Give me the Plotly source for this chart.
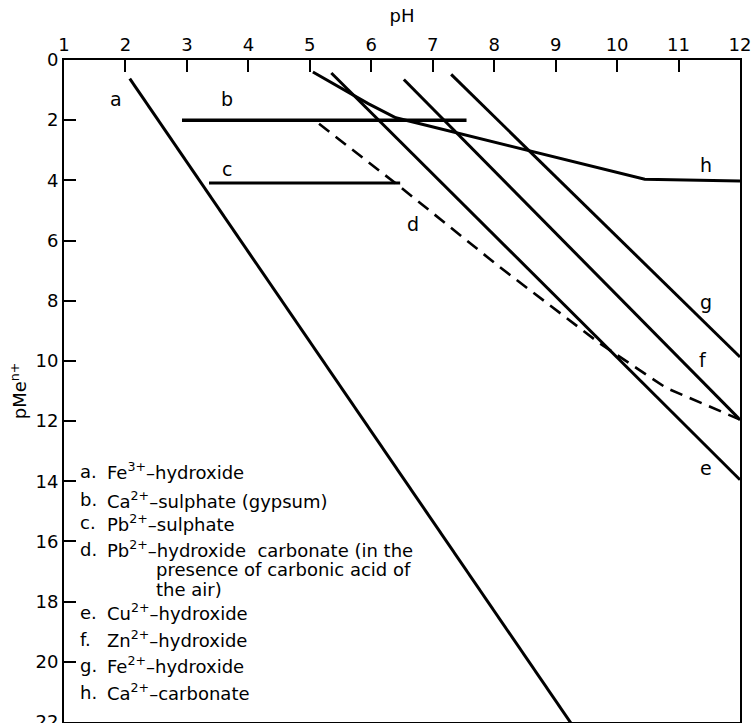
import plotly.graph_objects as go

# ---- data ----
ph_a = [2.07, 9.27]
pme_a = [0.62, 22.1]

ph_b = [2.92, 7.55]
pme_b = [2.0, 2.0]

ph_c = [3.36, 6.47]
pme_c = [4.09, 4.09]

ph_d = [5.15, 6.46, 8.09, 9.72, 10.8, 12.0]
pme_d = [2.12, 4.2, 6.88, 9.42, 10.9, 11.95]

ph_e = [5.35, 12.0]
pme_e = [0.43, 13.95]

ph_f = [6.53, 12.0]
pme_f = [0.65, 11.95]

ph_g = [7.30, 12.0]
pme_g = [0.48, 9.87]

ph_h = [5.05, 5.5, 5.95, 6.4, 6.8, 7.5, 8.5, 10.45, 12.0]
pme_h = [0.40, 0.92, 1.45, 1.92, 2.12, 2.47, 2.97, 3.96, 4.02]

curve_letters = ["a", "b", "c", "d", "e", "f", "g", "h"]
letter_ph = [1.85, 3.66, 3.66, 6.68, 11.44, 11.39, 11.44, 11.44]
letter_pme = [1.28, 1.31, 3.63, 5.45, 13.56, 9.97, 8.03, 3.49]

x_ticks = list(range(1, 13))
y_ticks = list(range(0, 23, 2))

legend_keys = ["a.", "b.", "c.", "d.", "", "", "e.", "f.", "g.", "h."]
legend_texts = [
    "Fe<sup>3+</sup>–hydroxide",
    "Ca<sup>2+</sup>–sulphate (gypsum)",
    "Pb<sup>2+</sup>–sulphate",
    "Pb<sup>2+</sup>–hydroxide  carbonate (in the",
    "presence of carbonic acid of",
    "the air)",
    "Cu<sup>2+</sup>–hydroxide",
    "Zn<sup>2+</sup>–hydroxide",
    "Fe<sup>2+</sup>–hydroxide",
    "Ca<sup>2+</sup>–carbonate",
]
legend_pme = [13.66, 14.61, 15.38, 16.26, 16.93, 17.59, 18.36, 19.25, 20.12, 21.01]

FONT = "DejaVu Sans"
FS = 18

fig = go.Figure()
for xs, ys, w in [(ph_a, pme_a, 3), (ph_b, pme_b, 3.6), (ph_c, pme_c, 3),
                  (ph_e, pme_e, 3), (ph_f, pme_f, 3), (ph_g, pme_g, 3), (ph_h, pme_h, 3)]:
    fig.add_trace(go.Scatter(x=xs, y=ys, mode="lines",
                             line=dict(color="black", width=w),
                             showlegend=False, hoverinfo="skip"))
fig.add_trace(go.Scatter(x=ph_d, y=pme_d, mode="lines",
                         line=dict(color="black", width=2.6, dash="13px,8px"),
                         showlegend=False, hoverinfo="skip"))

for t, x, y in zip(curve_letters, letter_ph, letter_pme):
    fig.add_annotation(x=x, y=y, text=t, showarrow=False,
                       font=dict(family=FONT, size=19, color="black"))

for k, t, y in zip(legend_keys, legend_texts, legend_pme):
    if k:
        fig.add_annotation(xref="paper", x=0.021, y=y, text=k, showarrow=False,
                           xanchor="left", yanchor="middle",
                           font=dict(family=FONT, size=FS, color="black"))
        fig.add_annotation(xref="paper", x=0.060, y=y, text=t, showarrow=False,
                           xanchor="left", yanchor="middle",
                           font=dict(family=FONT, size=FS, color="black"))
    else:
        fig.add_annotation(xref="paper", x=0.133, y=y, text=t, showarrow=False,
                           xanchor="left", yanchor="middle",
                           font=dict(family=FONT, size=FS, color="black"))

fig.update_layout(
    width=752, height=723,
    margin=dict(l=64, r=12, t=60, b=1),
    paper_bgcolor="white", plot_bgcolor="white",
    font=dict(family=FONT, size=FS, color="black"),
    xaxis=dict(range=[1, 12], side="top", tickvals=x_ticks, automargin=False,
               ticks="inside", ticklen=12, tickwidth=1.5, tickcolor="black",
               showline=True, linecolor="black", linewidth=2, mirror=True,
               showgrid=False, zeroline=False, ticklabeloverflow="allow",
               title=dict(text="pH", standoff=6, font=dict(family=FONT, size=FS)),
               tickfont=dict(family=FONT, size=FS)),
    yaxis=dict(range=[22, 0], tickvals=y_ticks, automargin=False,
               ticks="inside", ticklen=12, tickwidth=1.5, tickcolor="black",
               showline=True, linecolor="black", linewidth=2, mirror=True,
               showgrid=False, zeroline=False, ticklabeloverflow="allow",
               title=dict(text="pMe<sup>n+</sup>", standoff=4, font=dict(family=FONT, size=FS)),
               tickfont=dict(family=FONT, size=FS)),
)

fig.write_html("out.html", config={"displayModeBar": False},
               post_script="document.body.style.margin='0';document.body.style.overflow='hidden';")
